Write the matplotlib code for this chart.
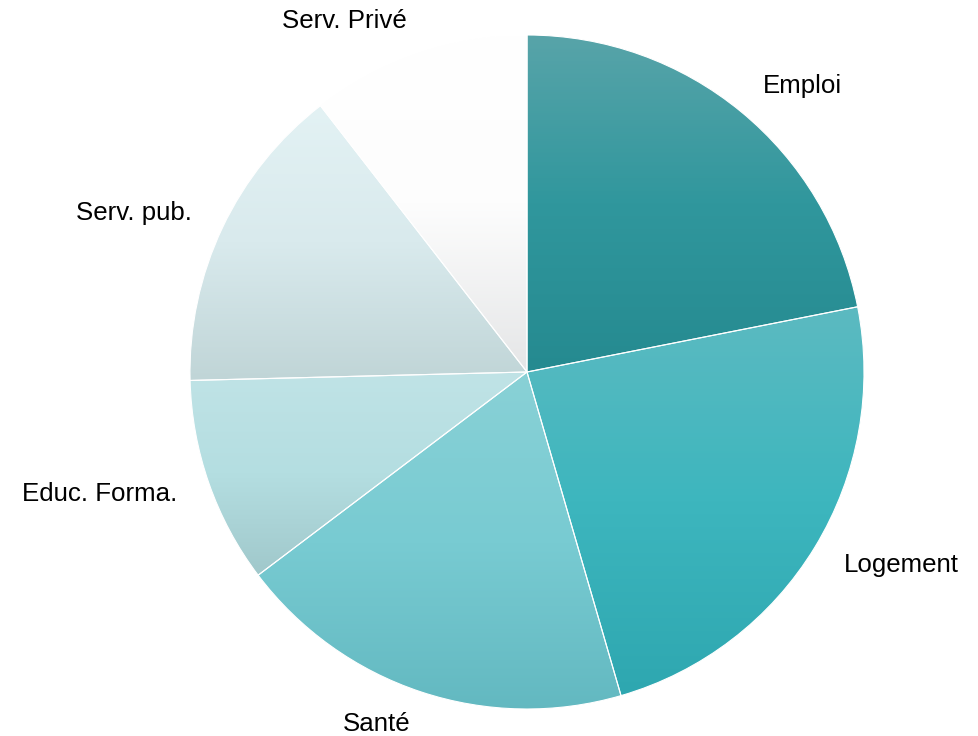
import numpy as np
import matplotlib
matplotlib.use("Agg")
import matplotlib.pyplot as plt
from matplotlib.colors import LinearSegmentedColormap

categories = ["Emploi", "Logement", "Santé", "Educ. Forma.", "Serv. pub.", "Serv. Privé"]
values = [21.9, 23.6, 19.2, 9.9, 14.9, 10.5]

# gradient stops (top, middle, bottom) for each slice
grad_colors = [
    ["#58a4a9", "#30979d", "#258a90"],
    ["#5cbac1", "#3db6be", "#2ea7b0"],
    ["#89d1d6", "#78cbd2", "#62b8c0"],
    ["#c0e3e6", "#b4dee1", "#a0c8cb"],
    ["#e3f2f4", "#d9eaed", "#c0d5d7"],
    ["#ffffff", "#fdfdfd", "#e5e6e7"],
]

plt.rcParams["font.family"] = ["Liberation Sans", "DejaVu Sans"]

W, H, dpi = 979, 736, 100
fig = plt.figure(figsize=(W / dpi, H / dpi), dpi=dpi)
ax = fig.add_axes([0, 0, 1, 1])

wedges, texts = ax.pie(values, labels=categories, startangle=90, counterclock=False,
                       labeldistance=1.1, radius=1.0,
                       wedgeprops=dict(linewidth=0.8, edgecolor="white"),
                       textprops=dict(fontsize=18.6, color="black"))

cx, cy, r = 527, 372, 337
ax.set_aspect("auto")
ax.axis("off")

for w, cols in zip(wedges, grad_colors):
    path = w.get_path().transformed(w.get_patch_transform())
    verts = path.vertices
    x0, x1 = verts[:, 0].min(), verts[:, 0].max()
    y0, y1 = verts[:, 1].min(), verts[:, 1].max()
    cmap = LinearSegmentedColormap.from_list("g", cols)
    grad = np.linspace(0, 1, 256).reshape(-1, 1)
    im = ax.imshow(grad, cmap=cmap, extent=[x0, x1, y0, y1], origin="upper",
                   aspect="auto", interpolation="bilinear", zorder=w.get_zorder())
    im.set_clip_path(w)
    w.set_facecolor("none")
    w.set_zorder(w.get_zorder() + 0.5)

ax.set_xlim(-cx / r, (W - cx) / r)
ax.set_ylim(-(H - cy) / r, cy / r)

fig.savefig("out.png", dpi=dpi, facecolor="white")
